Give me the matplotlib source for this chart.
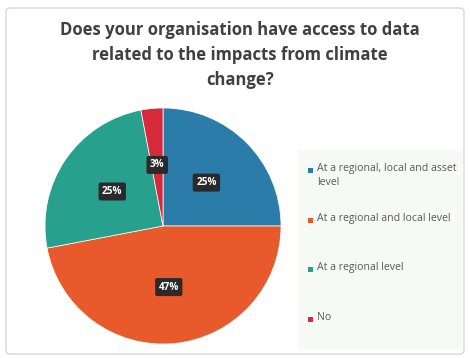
import matplotlib
matplotlib.use("Agg")
import matplotlib.pyplot as plt
from matplotlib.patches import FancyBboxPatch, Rectangle

# Data
categories = [
    "At a regional, local and asset\nlevel",
    "At a regional and local level",
    "At a regional level",
    "No",
]
values = [25, 47, 25, 3]
colors = ["#2B7CA8", "#E8592B", "#28A08E", "#D62A3B"]
title = "Does your organisation have access to data\nrelated to the impacts from climate\nchange?"

plt.rcParams['font.family'] = ['Open Sans', 'DejaVu Sans']

W, H = 470, 358
fig = plt.figure(figsize=(W / 100, H / 100), dpi=100)
fig.patch.set_facecolor("white")

# outer border
fig.add_artist(FancyBboxPatch((6 / W, 4 / H), 458 / W, 346 / H,
                              boxstyle="round,pad=0,rounding_size=0.01",
                              transform=fig.transFigure, facecolor="white",
                              edgecolor="#D9D9D9", linewidth=1.0, zorder=-2))
# legend background
fig.add_artist(Rectangle((298 / W, 8 / H), 164 / W, 200 / H,
                         transform=fig.transFigure, facecolor="#F6FAF7",
                         edgecolor="none", zorder=-1))

fig.text(240 / W, 1 - 55 / H, title, ha="center", va="center",
         fontsize=12, fontweight="bold", color="#404040", linespacing=1.5)

cx, cy, r = 163, 226, 118
ax = fig.add_axes([(cx - r) / W, 1 - (cy + r) / H, 2 * r / W, 2 * r / H])
wedges, texts, autotexts = ax.pie(
    values, colors=colors, startangle=90, counterclock=False,
    autopct="%d%%", pctdistance=0.52,
    wedgeprops=dict(linewidth=0.5, edgecolor="white"),
    textprops=dict(color="white", fontsize=7.2, fontweight="bold"))
for t in autotexts:
    t.set_bbox(dict(boxstyle="round,pad=0.35,rounding_size=0.2",
                    facecolor="#2A2A2A", edgecolor="none"))
ax.set_xlim(-1, 1)
ax.set_ylim(-1, 1)
ax.set_aspect("equal")
ax.axis("off")

# legend entries
ys = [170, 220, 269, 319]
for lab, col, y in zip(categories, colors, ys):
    fig.add_artist(Rectangle((308 / W, 1 - (y + 2.5) / H), 5 / W, 5 / H,
                             transform=fig.transFigure, facecolor=col,
                             edgecolor="none"))
    fig.text(317 / W, 1 - (y - 7) / H, lab, ha="left", va="top",
             fontsize=7.6, color="#595959", linespacing=1.4)

fig.savefig("out.png", dpi=100)
